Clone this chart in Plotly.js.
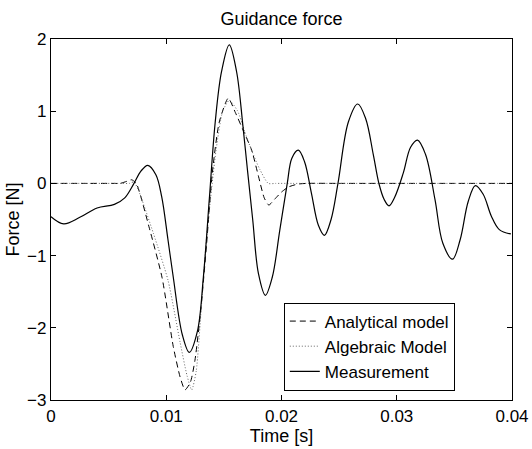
<!DOCTYPE html>
<html>
<head>
<meta charset="utf-8">
<script src="https://cdn.plot.ly/plotly-3.0.1.min.js"></script>
<style>html,body{margin:0;padding:0;background:#fff;}#chart{width:532px;height:449px;}</style>
</head>
<body>
<div id="chart"></div>
<script>
// Measurement (solid)
var measT = [0, 0.0011, 0.0025, 0.004, 0.0055, 0.0064, 0.0072, 0.0078, 0.0084, 0.0091, 0.0096, 0.01015, 0.0106, 0.0114, 0.012, 0.0127, 0.01322, 0.01374, 0.01425, 0.0148, 0.01547, 0.0161, 0.01665, 0.01705, 0.0175, 0.018, 0.0186, 0.0192, 0.01985, 0.0205, 0.0209, 0.02146, 0.022, 0.02259, 0.0232, 0.02372, 0.0243, 0.0249, 0.0258, 0.02661, 0.0273, 0.02797, 0.02845, 0.0289, 0.02933, 0.0298, 0.03057, 0.0312, 0.0318, 0.0325, 0.03332, 0.034, 0.03484, 0.0355, 0.0362, 0.03682, 0.0375, 0.0382, 0.0389, 0.0399];
var measF = [-0.46, -0.56, -0.47, -0.34, -0.29, -0.2, 0.0, 0.17, 0.25, 0.12, -0.18, -0.78, -1.29, -2.1, -2.34, -2.05, -1.3, -0.21, 0.85, 1.55, 1.92, 1.55, 0.8, 0.18, -0.5, -1.25, -1.55, -1.3, -0.65, 0.0, 0.35, 0.46, 0.3, -0.13, -0.58, -0.72, -0.5, 0.0, 0.85, 1.10, 0.9, 0.395, 0.0, -0.22, -0.31, -0.2, 0.145, 0.5, 0.60, 0.4, -0.225, -0.83, -1.05, -0.78, -0.25, -0.03, -0.15, -0.45, -0.64, -0.70];

// Analytical model (dashed)
var anaT = [0, 0.003, 0.0055, 0.006, 0.0066, 0.007, 0.0074, 0.0085, 0.00963, 0.01061, 0.0112, 0.01163, 0.0121, 0.01249, 0.013, 0.0135, 0.014, 0.0146, 0.01538, 0.016, 0.01666, 0.01741, 0.018, 0.0185, 0.0189, 0.0194, 0.02, 0.0206, 0.0214, 0.0222, 0.025, 0.03, 0.035, 0.04];
var anaF = [0, 0, 0, 0, 0.03, 0.05, 0.0, -0.6, -1.3, -2.26, -2.68, -2.86, -2.75, -2.45, -1.75, -0.84, 0.15, 0.85, 1.18, 0.98, 0.74, 0.46, 0.1, -0.2, -0.30, -0.22, -0.12, -0.05, -0.01, 0, 0, 0, 0, 0];

// Algebraic model (dotted)
var algT = [0, 0.003, 0.006, 0.0068, 0.0072, 0.0076, 0.0089, 0.01015, 0.0112, 0.0118, 0.01221, 0.0126, 0.01305, 0.0135, 0.01432, 0.0149, 0.01547, 0.0162, 0.0168, 0.0174, 0.0181, 0.01885, 0.0195, 0.021, 0.025, 0.03, 0.035, 0.04];
var algF = [0, 0, 0, 0, 0.02, -0.1, -0.7, -1.34, -2.2, -2.66, -2.86, -2.6, -1.7, -0.75, 0.46, 1.0, 1.15, 1.0, 0.72, 0.46, 0.2, 0, 0, 0, 0, 0, 0, 0];

var xTicks = [0, 0.01, 0.02, 0.03, 0.04];
var xTickText = ['0', '0.01', '0.02', '0.03', '0.04'];
var yTicks = [-3, -2, -1, 0, 1, 2];
var yTickText = ['\u22123', '\u22122', '\u22121', '0', '1', '2'];

var font = 'Liberation Sans, Arial, Helvetica, sans-serif';

var traces = [
  {x: anaT, y: anaF, mode: 'lines', name: 'Analytical model',
   line: {color: '#000', width: 1, dash: '6px,4px', shape: 'spline', smoothing: 0.6}},
  {x: algT, y: algF, mode: 'lines', name: 'Algebraic Model',
   line: {color: '#666', width: 1, dash: '1px,2px', shape: 'spline', smoothing: 0.6}},
  {x: measT, y: measF, mode: 'lines', name: 'Measurement',
   line: {color: '#000', width: 1.2, shape: 'spline', smoothing: 1}}
];

var axisCommon = {
  showline: true, mirror: 'ticks', linecolor: '#000', linewidth: 1.2,
  ticks: 'inside', ticklen: 5, tickcolor: '#000', tickwidth: 1,
  showgrid: false, zeroline: false,
  tickfont: {family: font, size: 17, color: '#000'}
};

var layout = {
  width: 532, height: 449,
  margin: {l: 51, r: 20, t: 39, b: 49},
  paper_bgcolor: '#fff', plot_bgcolor: '#fff',
  font: {family: font, color: '#000'},
  title: {text: 'Guidance force', font: {family: font, size: 18, color: '#000'},
          x: 0.5, xref: 'paper', xanchor: 'center', y: 0.958, yref: 'container', yanchor: 'middle'},
  xaxis: Object.assign({}, axisCommon, {
    range: [0, 0.04], tickvals: xTicks, ticktext: xTickText,
    title: {text: 'Time [s]', font: {family: font, size: 18, color: '#000'}, standoff: 0}
  }),
  yaxis: Object.assign({}, axisCommon, {
    range: [-3, 2], tickvals: yTicks, ticktext: yTickText,
    title: {text: 'Force [N]', font: {family: font, size: 18, color: '#000'}, standoff: 2}
  }),
  showlegend: true,
  legend: {x: 0.505, y: 0.27, xanchor: 'left', yanchor: 'top',
           bgcolor: '#fff', bordercolor: '#000', borderwidth: 1,
           font: {family: font, size: 17, color: '#000'},
           tracegroupgap: 0, itemwidth: 30, entrywidth: 150, entrywidthmode: 'pixels'}
};

Plotly.newPlot('chart', traces, layout, {staticPlot: true, displayModeBar: false});
</script>
</body>
</html>
